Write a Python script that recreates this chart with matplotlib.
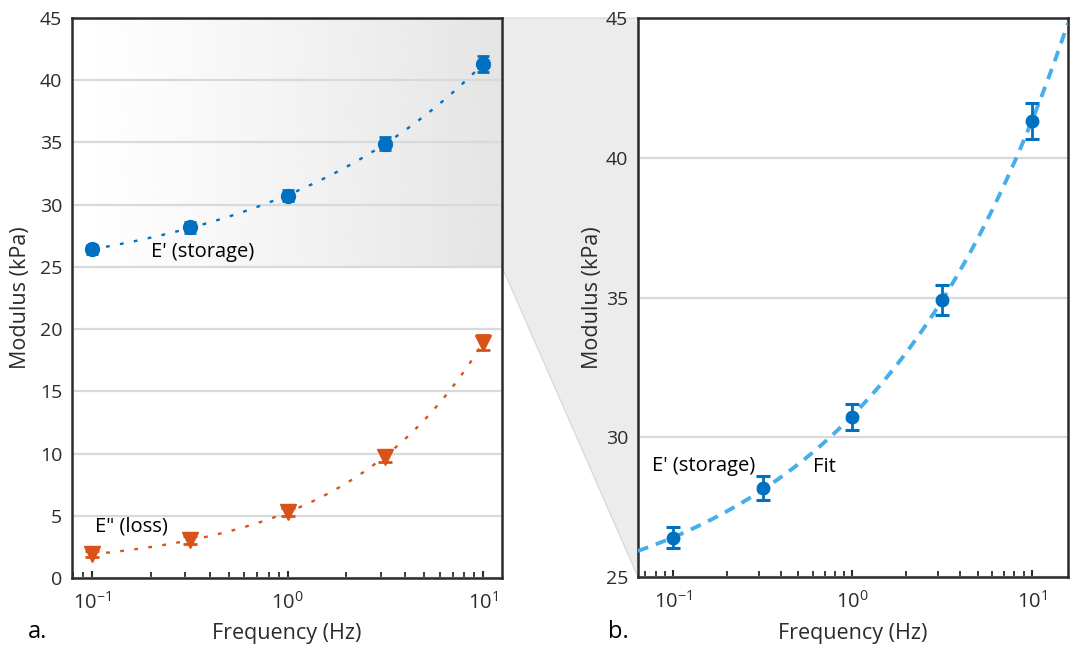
import numpy as np
import matplotlib
matplotlib.use("Agg")
import matplotlib.pyplot as plt
from matplotlib.patches import Polygon
from matplotlib.ticker import LogLocator, MultipleLocator

plt.rcParams['font.family'] = ['Open Sans', 'DejaVu Sans']
plt.rcParams['mathtext.fontset'] = 'custom'
plt.rcParams['mathtext.rm'] = 'Open Sans'
plt.rcParams['mathtext.default'] = 'regular'
plt.rcParams['axes.unicode_minus'] = False

# ---- data ----
freq = [0.1, 0.316, 1.0, 3.16, 10.0]
storage = [26.4, 28.18, 30.72, 34.91, 41.31]
storage_err = [0.38, 0.43, 0.46, 0.53, 0.64]
loss = [1.9, 3.05, 5.3, 9.75, 18.9]
loss_err = [0.25, 0.3, 0.35, 0.45, 0.6]

BLUE = '#0070C0'
ORANGE = '#D95319'
LIGHTBLUE = '#45AEEE'
TXT = '#2b2b2b'


def power_fit(x, y):
    """Fit y = E0 + b*x**n by grid search on E0 and log-linear regression."""
    x = np.asarray(x, float)
    y = np.asarray(y, float)
    best = None
    for e0 in np.linspace(y.min() - 0.9 * y.min() - 5, y.min() - 0.05, 2000):
        ly = np.log10(y - e0)
        n, lb = np.polyfit(np.log10(x), ly, 1)
        pred = e0 + 10 ** lb * x ** n
        sse = np.sum((pred - y) ** 2)
        if best is None or sse < best[0]:
            best = (sse, e0, 10 ** lb, n)
    _, e0, b, n = best
    return lambda f: e0 + b * np.asarray(f) ** n


fit_storage = power_fit(freq, storage)
fit_loss = power_fit(freq, loss)

fig = plt.figure(figsize=(10.72, 6.46), dpi=100)
axL = fig.add_axes([0.0672, 0.1053, 0.4011, 0.8668])
axR = fig.add_axes([0.5951, 0.1068, 0.4011, 0.8653])


def style(ax):
    ax.set_xscale('log')
    for s in ax.spines.values():
        s.set_linewidth(1.8)
        s.set_color('#2b2b2b')
    ax.tick_params(axis='x', which='both', direction='in', top=False,
                   colors='#2b2b2b', labelcolor=TXT, labelsize=14.5, pad=10)
    ax.tick_params(axis='x', which='major', length=5, width=1.5)
    ax.tick_params(axis='x', which='minor', length=4, width=1.3)
    ax.tick_params(axis='y', which='both', length=0, labelcolor=TXT,
                   labelsize=14, pad=7)
    ax.xaxis.set_major_locator(LogLocator(base=10))
    ax.xaxis.set_minor_locator(LogLocator(base=10, subs=np.arange(2, 10)))
    ax.set_axisbelow(True)
    ax.grid(axis='y', color='#d9d9d9', lw=1.6)
    ax.grid(axis='x', visible=False)
    ax.set_xlabel('Frequency (Hz)', fontsize=15.5, color=TXT, labelpad=7)
    ax.set_ylabel('Modulus (kPa)', fontsize=15.5, color=TXT, labelpad=6)


# ---- left panel ----
style(axL)
axL.set_xlim(0.079, 12.5)
axL.set_ylim(0, 45)
axL.yaxis.set_major_locator(MultipleLocator(5))

t = np.linspace(0, 1, 256)
grad = 1.0 - 0.105 * t ** 1.15
grad = np.tile(grad, (2, 1))
axL.imshow(grad, cmap='gray', vmin=0, vmax=1, aspect='auto',
           extent=(0, 1, 25, 45), transform=axL.get_yaxis_transform(),
           zorder=0, interpolation='bilinear')
axL.set_xlim(0.079, 12.5)
axL.set_ylim(0, 45)

fx = np.logspace(np.log10(freq[0]), np.log10(freq[-1]), 200)
axL.plot(fx, fit_storage(fx), color=BLUE, lw=1.7, dashes=(1.6, 4.4), zorder=3)
axL.plot(fx, fit_loss(fx), color=ORANGE, lw=1.7, dashes=(1.6, 4.4), zorder=3)
axL.errorbar(freq, storage, yerr=storage_err, fmt='o', color=BLUE, ms=10,
             elinewidth=2, capsize=4.5, capthick=2, zorder=4)
axL.errorbar(freq, loss, yerr=loss_err, fmt='v', color=ORANGE, ms=12,
             elinewidth=2, capsize=5, capthick=2, zorder=4)
axL.text(0.2, 26.2, "E' (storage)", fontsize=14.5, color='black',
         ha='left', va='center')
axL.text(0.104, 4.1, 'E" (loss)', fontsize=14.5, color='black',
         ha='left', va='center')

# ---- right panel ----
style(axR)
axR.set_xlim(0.0638, 15.9)
axR.set_ylim(25, 45)
axR.yaxis.set_major_locator(MultipleLocator(5))
rx = np.logspace(np.log10(0.0638), np.log10(15.9), 300)
axR.plot(rx, fit_storage(rx), color=LIGHTBLUE, lw=2.8, dashes=(2.8, 2.1),
         zorder=3)
axR.errorbar(freq, storage, yerr=storage_err, fmt='o', color=BLUE, ms=9,
             elinewidth=2, capsize=5, capthick=2.2, zorder=4)
axR.text(0.0765, 28.98, "E' (storage)", fontsize=14.5, color='black',
         ha='left', va='center')
axR.text(0.6, 28.95, 'Fit', fontsize=14.5, color='black',
         ha='left', va='center')
axR.set_ylabel('Modulus (kPa)', fontsize=15.5, color=TXT, labelpad=2)

# ---- zoom connector ----
fig.canvas.draw()
inv = fig.transFigure.inverted()
pL1 = inv.transform(axL.transData.transform((axL.get_xlim()[1], 45)))
pL2 = inv.transform(axL.transData.transform((axL.get_xlim()[1], 25)))
pR1 = inv.transform(axR.transAxes.transform((0, 0)))
pR2 = inv.transform(axR.transAxes.transform((0, 1)))
poly = Polygon([pL1, pL2, pR1, pR2], closed=True, transform=fig.transFigure,
               facecolor='#ececec', edgecolor='#d6d6d6', lw=0.8, zorder=-1)
fig.patches.append(poly)

fig.text(28 / 1072, 1 - 632 / 646, 'a.', fontsize=17, color='black',
         ha='left', va='center')
fig.text(608 / 1072, 1 - 632 / 646, 'b.', fontsize=17, color='black',
         ha='left', va='center')

fig.savefig('out.png', dpi=100)
